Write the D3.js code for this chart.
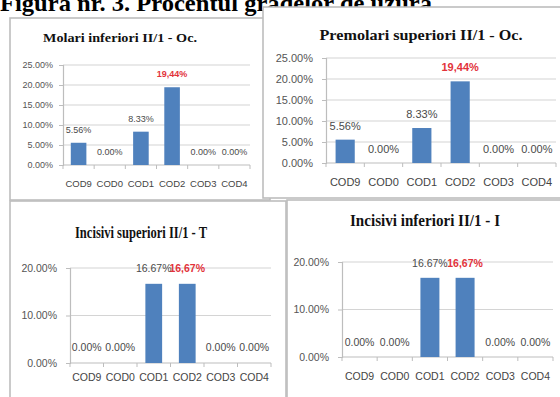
<!DOCTYPE html>
<html>
<head>
<meta charset="utf-8">
<script src="https://cdn.jsdelivr.net/npm/d3@7"></script>
<style>
  html, body { margin: 0; padding: 0; background: #fff; }
  svg { display: block; }
</style>
</head>
<body>
<svg id="fig" width="560" height="397"></svg>
<script>
// Wear-grade categories shared by all four charts
const categories = ["COD9", "COD0", "COD1", "COD2", "COD3", "COD4"];

// Percentages per tooth group
const molariInferiori = [5.56, 0, 8.33, 19.44, 0, 0];
const premolariSuperiori = [5.56, 0, 8.33, 19.44, 0, 0];
const incisiviSuperiori = [0, 0, 16.67, 16.67, 0, 0];
const incisiviInferiori = [0, 0, 16.67, 16.67, 0, 0];

// Index of the value highlighted in red in each chart
const highlightMolari = 3;
const highlightPremolari = 3;
const highlightIncisiviSup = 3;
const highlightIncisiviInf = 3;

// Axis tick values (percent)
const ticksOcluzal = [0, 5, 10, 15, 20, 25];
const ticksIncisivi = [0, 10, 20];

const figureTitle = "Figura nr. 3. Procentul gradelor de uzura";
const titles = [
  "Molari inferiori II/1 - Oc.",
  "Premolari superiori II/1 - Oc.",
  "Incisivi superiori II/1 - T",
  "Incisivi inferiori II/1 - I"
];

const svg = d3.select("#fig");
const pct = v => d3.format(".2f")(v) + "%";
const BAR = "#4f81bd";
const RED = "#e2333b";

svg.append("text")
  .attr("x", 0).attr("y", 11)
  .attr("font-family", "Liberation Serif, serif")
  .attr("font-weight", "bold")
  .attr("font-size", 23)
  .attr("textLength", 432).attr("lengthAdjust", "spacingAndGlyphs")
  .attr("fill", "#000")
  .text(figureTitle);

function drawPanel(cfg) {
  const g = svg.append("g");
  g.append("rect")
    .attr("x", cfg.frame[0]).attr("y", cfg.frame[1])
    .attr("width", cfg.frame[2]).attr("height", cfg.frame[3])
    .attr("fill", "#fff").attr("stroke", "#bdbdbd").attr("stroke-width", 1.6);

  g.append("text")
    .attr("x", cfg.titlePos[0]).attr("y", cfg.titlePos[1])
    .attr("text-anchor", "middle").attr("dominant-baseline", "central")
    .attr("font-family", "Liberation Serif, serif").attr("font-weight", "bold")
    .attr("font-size", cfg.titleSize)
    .attr("textLength", cfg.titleWidth).attr("lengthAdjust", "spacingAndGlyphs")
    .attr("fill", "#111")
    .text(cfg.title);

  const x = d3.scaleBand().domain(categories).range([cfg.plot.x0, cfg.plot.x1]).paddingInner(cfg.pad).paddingOuter(cfg.pad / 2);
  const xb = d3.scaleBand().domain(categories).range([cfg.plot.x0, cfg.plot.x1]);
  const y = d3.scaleLinear().domain([0, d3.max(cfg.ticks)]).range([cfg.plot.y0, cfg.plot.y1]);

  // horizontal gridlines
  g.append("g").selectAll("line").data(cfg.ticks.filter(t => t > 0)).join("line")
    .attr("x1", cfg.plot.x0).attr("x2", cfg.plot.x1)
    .attr("y1", d => y(d)).attr("y2", d => y(d))
    .attr("stroke", "#d4d4d4").attr("stroke-width", 1.2);

  // value axis
  const ya = g.append("g").attr("transform", `translate(${cfg.plot.x0},0)`)
    .call(d3.axisLeft(y).tickValues(cfg.ticks).tickFormat(pct).tickSize(4).tickPadding(cfg.yPad));
  ya.select(".domain").attr("stroke", "#bdbdbd").attr("stroke-width", 1.2);
  ya.selectAll(".tick line").attr("stroke", "#bdbdbd");
  ya.selectAll(".tick text")
    .attr("font-family", "Liberation Sans Narrow, Liberation Sans, sans-serif")
    .attr("font-size", cfg.fs).attr("fill", "#555");

  // category axis with tick marks between categories
  const xa = g.append("g").attr("transform", `translate(0,${cfg.plot.y0})`);
  xa.append("line").attr("x1", cfg.plot.x0).attr("x2", cfg.plot.x1)
    .attr("stroke", "#bdbdbd").attr("stroke-width", 1.2);
  const edges = categories.map(c => xb(c)).concat([cfg.plot.x1]);
  xa.selectAll("line.tk").data(edges).join("line").attr("class", "tk")
    .attr("x1", d => d).attr("x2", d => d).attr("y1", 0).attr("y2", 4)
    .attr("stroke", "#bdbdbd");
  xa.selectAll("text").data(categories).join("text")
    .attr("x", d => xb(d) + xb.bandwidth() / 2).attr("y", cfg.catDy)
    .attr("text-anchor", "middle").attr("dominant-baseline", "central")
    .attr("font-family", "Liberation Sans Narrow, Liberation Sans, sans-serif")
    .attr("font-size", cfg.catFs).attr("fill", "#444")
    .text(d => d);

  // bars
  g.append("g").selectAll("rect").data(cfg.values).join("rect")
    .attr("x", (d, i) => x(categories[i]))
    .attr("width", x.bandwidth())
    .attr("y", d => y(d))
    .attr("height", d => cfg.plot.y0 - y(d))
    .attr("fill", BAR);

  // value labels
  g.append("g").selectAll("text").data(cfg.values).join("text")
    .attr("x", (d, i) => xb(categories[i]) + xb.bandwidth() / 2)
    .attr("y", d => y(d) - cfg.labelDy)
    .attr("text-anchor", "middle").attr("dominant-baseline", "central")
    .attr("font-family", "Liberation Sans Narrow, Liberation Sans, sans-serif")
    .attr("font-size", cfg.fs)
    .attr("font-weight", (d, i) => i === cfg.highlight ? "bold" : "normal")
    .attr("fill", (d, i) => i === cfg.highlight ? RED : "#4a4a4a")
    .text((d, i) => i === cfg.highlight ? pct(d).replace(".", ",") : pct(d));
}

drawPanel({
  frame: [10, 18, 260, 182], title: titles[0], titlePos: [120, 37], titleSize: 13, titleWidth: 154,
  plot: { x0: 63, x1: 250, y0: 165, y1: 65 }, ticks: ticksOcluzal, pad: 0.5,
  values: molariInferiori, highlight: highlightMolari,
  fs: 9, catFs: 9.5, catDy: 18, yPad: 6, labelDy: 13
});
drawPanel({
  frame: [263, 7, 302, 191], title: titles[1], titlePos: [421, 35], titleSize: 14, titleWidth: 203,
  plot: { x0: 326, x1: 556, y0: 163, y1: 58 }, ticks: ticksOcluzal, pad: 0.5,
  values: premolariSuperiori, highlight: highlightPremolari,
  fs: 11, catFs: 11, catDy: 19, yPad: 9, labelDy: 14
});
drawPanel({
  frame: [10, 201, 276, 205], title: titles[2], titlePos: [141, 232], titleSize: 16, titleWidth: 132,
  plot: { x0: 70, x1: 271, y0: 363, y1: 268 }, ticks: ticksIncisivi, pad: 0.5,
  values: incisiviSuperiori, highlight: highlightIncisiviSup,
  fs: 10.5, catFs: 10.5, catDy: 14, yPad: 9, labelDy: 16
});
drawPanel({
  frame: [287, 200, 280, 205], title: titles[3], titlePos: [425, 220], titleSize: 16, titleWidth: 150,
  plot: { x0: 342, x1: 553, y0: 357, y1: 262 }, ticks: ticksIncisivi, pad: 0.46,
  values: incisiviInferiori, highlight: highlightIncisiviInf,
  fs: 10.5, catFs: 10.5, catDy: 19, yPad: 9, labelDy: 15
});
</script>
</body>
</html>
